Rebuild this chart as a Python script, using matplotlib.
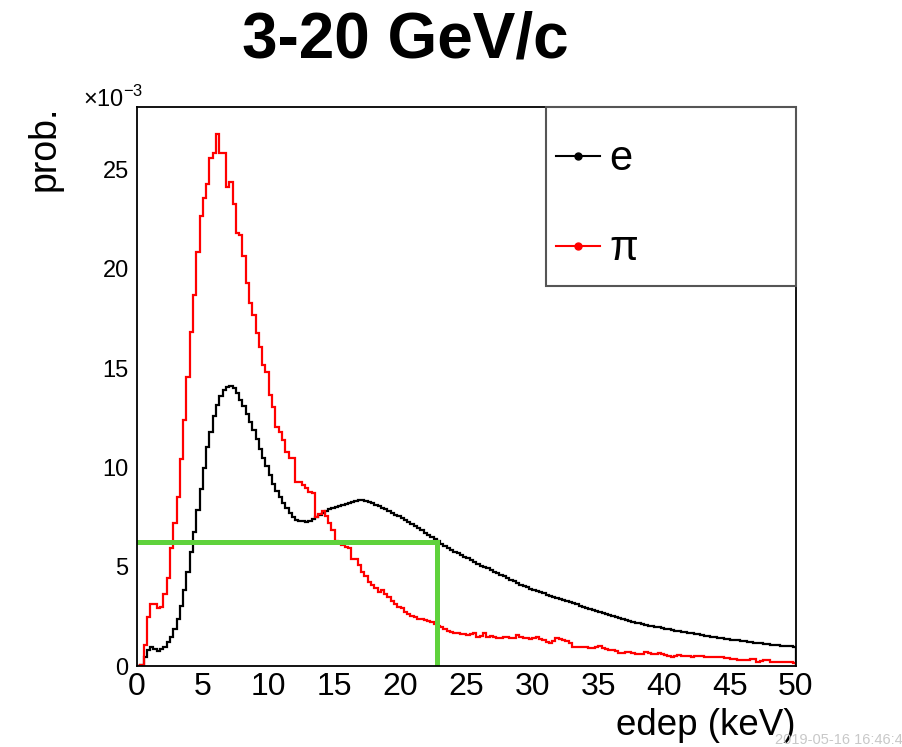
import numpy as np
import matplotlib
matplotlib.use("Agg")
import matplotlib.pyplot as plt
from matplotlib.lines import Line2D
from matplotlib.patches import Rectangle

plt.rcParams['font.family'] = ['Liberation Sans', 'DejaVu Sans']
plt.rcParams['mathtext.fontset'] = 'custom'
plt.rcParams['mathtext.rm'] = 'Liberation Sans'

# energy deposit histograms, 0.25 keV bins from 0 to 50 keV, values in units of 1e-3
bin_width = 0.25
e_vals = [
    0.0, 0.05, 0.47, 0.81, 0.94, 0.84, 0.77, 0.84, 0.97, 1.23, 1.44, 1.85, 2.35, 3.02, 3.83,
    4.75, 5.76, 6.77, 7.86, 8.90, 9.96, 11.02, 11.81, 12.59, 13.15, 13.60, 13.90, 14.05, 14.10, 14.02,
    13.75, 13.42, 13.08, 12.70, 12.30, 11.88, 11.45, 10.95, 10.50, 10.10, 9.60, 9.18, 8.82, 8.50, 8.22,
    7.96, 7.72, 7.50, 7.38, 7.32, 7.28, 7.27, 7.32, 7.40, 7.50, 7.62, 7.73, 7.82, 7.90, 7.96,
    8.02, 8.07, 8.12, 8.17, 8.23, 8.28, 8.32, 8.35, 8.35, 8.33, 8.28, 8.22, 8.13, 8.06, 7.98,
    7.90, 7.82, 7.72, 7.62, 7.54, 7.45, 7.37, 7.27, 7.17, 7.06, 6.95, 6.84, 6.72, 6.62, 6.50,
    6.40, 6.28, 6.15, 6.03, 5.92, 5.84, 5.75, 5.67, 5.58, 5.50, 5.42, 5.32, 5.22, 5.12, 5.04,
    4.98, 4.92, 4.84, 4.75, 4.67, 4.59, 4.51, 4.43, 4.35, 4.26, 4.18, 4.10, 4.03, 3.97, 3.90,
    3.84, 3.78, 3.72, 3.66, 3.60, 3.55, 3.50, 3.45, 3.40, 3.34, 3.29, 3.24, 3.17, 3.10, 3.04,
    2.99, 2.94, 2.89, 2.84, 2.78, 2.72, 2.67, 2.61, 2.55, 2.50, 2.45, 2.40, 2.35, 2.31, 2.27,
    2.23, 2.19, 2.15, 2.11, 2.07, 2.04, 2.01, 1.98, 1.95, 1.92, 1.88, 1.84, 1.80, 1.77, 1.75,
    1.72, 1.70, 1.67, 1.65, 1.62, 1.59, 1.56, 1.53, 1.50, 1.48, 1.45, 1.42, 1.39, 1.37, 1.35,
    1.33, 1.31, 1.29, 1.27, 1.25, 1.22, 1.20, 1.18, 1.16, 1.14, 1.12, 1.10, 1.08, 1.07, 1.05,
    1.03, 1.02, 1.00, 0.99, 0.97,
]
pi_vals = [
    0.0, 0.05, 1.06, 2.49, 3.13, 3.10, 2.91, 2.99, 3.63, 4.45, 5.93, 7.22, 8.53, 10.41, 12.39,
    14.57, 16.81, 18.69, 20.87, 22.69, 23.56, 24.27, 25.58, 25.84, 26.80, 25.84, 25.84, 24.15, 24.36, 23.26,
    21.83, 21.71, 20.65, 19.28, 18.30, 17.68, 16.76, 16.09, 15.16, 14.83, 13.65, 13.06, 12.06, 11.80, 11.39,
    10.80, 10.46, 10.46, 9.29, 9.29, 9.12, 8.95, 8.78, 8.73, 7.52, 7.65, 7.80, 7.55, 7.19, 6.85,
    6.28, 6.18, 6.10, 5.98, 5.95, 5.40, 5.38, 5.10, 4.72, 4.55, 4.25, 4.08, 3.95, 3.74, 3.84,
    3.62, 3.50, 3.30, 3.12, 2.99, 2.91, 2.70, 2.62, 2.52, 2.45, 2.38, 2.35, 2.32, 2.28, 2.20,
    2.12, 2.02, 1.95, 1.86, 1.78, 1.73, 1.66, 1.65, 1.63, 1.60, 1.56, 1.60, 1.65, 1.48, 1.52,
    1.65, 1.48, 1.50, 1.46, 1.42, 1.39, 1.44, 1.48, 1.42, 1.39, 1.56, 1.48, 1.42, 1.39, 1.38,
    1.39, 1.48, 1.35, 1.30, 1.23, 1.16, 1.28, 1.39, 1.36, 1.31, 1.28, 1.14, 0.98, 0.98, 0.96,
    0.97, 0.96, 0.92, 0.89, 0.95, 1.00, 0.89, 0.86, 0.81, 0.79, 0.76, 0.64, 0.68, 0.72, 0.70,
    0.64, 0.62, 0.60, 0.62, 0.72, 0.66, 0.60, 0.62, 0.64, 0.60, 0.55, 0.52, 0.47, 0.50, 0.55,
    0.52, 0.50, 0.48, 0.47, 0.50, 0.48, 0.50, 0.47, 0.46, 0.44, 0.46, 0.47, 0.43, 0.39, 0.40,
    0.36, 0.34, 0.32, 0.30, 0.31, 0.30, 0.33, 0.34, 0.22, 0.26, 0.28, 0.30, 0.22, 0.18, 0.20,
    0.22, 0.20, 0.22, 0.19, 0.17,
]
# cut line (green)
cut_x = 22.8
cut_y = 6.25

x_ticks = [0, 5, 10, 15, 20, 25, 30, 35, 40, 45, 50]
y_ticks = [0, 5, 10, 15, 20, 25]

edges = np.arange(len(e_vals) + 1) * bin_width

fig = plt.figure(figsize=(9.03, 7.47), dpi=100)
ax = fig.add_axes([0.1517, 0.1084, 0.7298, 0.7484])

ax.stairs(e_vals, edges, color='black', lw=1.6)
ax.stairs(pi_vals, edges, color='red', lw=1.6)
ax.plot([0, cut_x, cut_x], [cut_y, cut_y, 0], color='#5fd23c', lw=3.6, solid_joinstyle='miter')

ax.set_xlim(0, 50)
ax.set_ylim(0, 28.16)
ax.set_xticks(x_ticks)
ax.set_yticks(y_ticks)
ax.tick_params(axis='both', length=0)
ax.tick_params(axis='x', labelsize=23, pad=4)
ax.tick_params(axis='y', labelsize=17, pad=6)
for s in ax.spines.values():
    s.set_linewidth(1.3)

# frame of the legend box
ax.add_patch(Rectangle((0.6206, 0.6798), 0.3794, 0.3202, transform=ax.transAxes,
                       fill=False, edgecolor='#555555', lw=1.5, clip_on=False, zorder=5))
handles = [Line2D([], [], color='black', marker='o', ms=5, lw=1.5),
           Line2D([], [], color='red', marker='o', ms=5, lw=1.5)]
ax.legend(handles, ['e', 'π'], loc='center left', bbox_to_anchor=(0.6358, 0.826),
          frameon=False, fontsize=30, handlelength=1.05, handletextpad=0.22,
          labelspacing=1.2, borderpad=0, borderaxespad=0)

fig.text(0.4485, 0.946, '3-20 GeV/c', fontsize=46, fontweight='bold', ha='center', va='center')
fig.text(0.049, 0.859, 'prob.', fontsize=27, rotation=90, ha='center', va='top')
fig.text(0.8815, 0.029, 'edep (keV)', fontsize=26.5, ha='right', va='center')
fig.text(0.092, 0.868, r'$\times10^{-3}$', fontsize=17, ha='left', va='center')
fig.text(0.858, 0.009, '2019-05-16 16:46:47', fontsize=10.5, color='#c8c8c8', ha='left', va='center')

fig.savefig('out.png', dpi=100)
